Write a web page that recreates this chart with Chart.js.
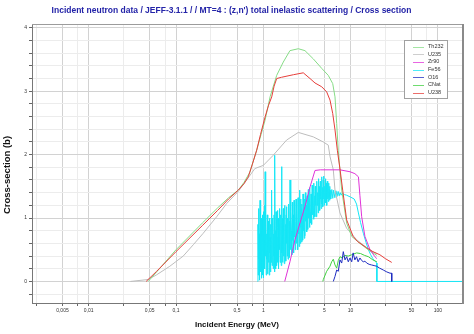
<!DOCTYPE html>
<html>
<head>
<meta charset="utf-8">
<script src="https://cdn.jsdelivr.net/npm/chart.js@4/dist/chart.umd.min.js"></script>
<style>
  html, body { margin: 0; padding: 0; background: #fff; }
  #wrap { width: 474px; height: 334px; }
</style>
</head>
<body>
<div id="wrap"><canvas id="c" width="474" height="334"></canvas></div>
<script>
// Incident energy (MeV) and cross-section (b) for each target, MT=4 (z,n')
const th232E = [0.048, 0.06, 0.1, 0.2, 0.3, 0.4, 0.517, 0.6, 0.7, 0.84, 1.046, 1.2, 1.424, 1.695, 2.02, 2.52, 3.0, 3.74, 4.67, 5.55, 6.24, 6.63, 6.93, 7.22, 7.91, 9.02, 10.3, 12.8, 15.9, 20];
const th232Xs = [0, 0.15, 0.5, 0.92, 1.16, 1.32, 1.44, 1.56, 1.72, 2.07, 2.54, 2.92, 3.25, 3.46, 3.64, 3.67, 3.64, 3.51, 3.36, 3.25, 3.12, 2.91, 2.49, 2.07, 1.44, 0.92, 0.71, 0.60, 0.50, 0.41];

const u235E = [0.03, 0.0478, 0.06, 0.085, 0.121, 0.158, 0.205, 0.292, 0.381, 0.517, 0.645, 0.8, 1.0, 1.3, 1.85, 2.52, 3.74, 4.86, 5.55, 5.81, 6.34, 6.63, 7.56, 9.0, 11.7, 15.3, 19, 20];
const u235Xs = [0, 0.03, 0.105, 0.24, 0.40, 0.58, 0.76, 1.02, 1.23, 1.42, 1.6, 1.78, 1.83, 1.99, 2.23, 2.35, 2.28, 2.20, 2.15, 1.97, 1.76, 1.44, 1.08, 0.84, 0.66, 0.53, 0.45, 0.44];

const zr90E = [1.76, 2.02, 2.31, 2.63, 3.0, 3.43, 3.91, 4.5, 5.81, 7.56, 9.85, 11.2, 12.3, 12.8, 13.4, 14.6, 16.7, 19, 20];
const zr90Xs = [0, 0.31, 0.66, 0.92, 1.18, 1.49, 1.75, 1.76, 1.76, 1.76, 1.73, 1.70, 1.65, 1.35, 1.02, 0.71, 0.50, 0.39, 0.36];

// Fe56: resolved-resonance structure above the 0.862 MeV threshold, [energy, xs]
const fe56Points = [
  [0.862, 0], [0.869, 0.9], [0.876, 0.1], [0.883, 1.15], [0.89, 0.35], [0.897, 0.75], [0.904, 0.02], [0.911, 0.6],
  [0.918, 1.28], [0.925, 0.15], [0.932, 0.85], [0.939, 0.4], [0.946, 1.0], [0.953, 0.05], [0.96, 0.7], [0.967, 0.25],
  [0.974, 1.05], [0.981, 0.1], [0.988, 0.8], [0.995, 0.3],
  [1.00, 1.1], [1.01, 0.06], [1.02, 0.65], [1.03, 1.2], [1.04, 0.2], [1.05, 1.73], [1.06, 0.4], [1.07, 0.9],
  [1.08, 0.1], [1.09, 0.75], [1.10, 0.35], [1.11, 1.05], [1.12, 0.12], [1.13, 0.6], [1.14, 0.95], [1.15, 0.3],
  [1.16, 0.8], [1.17, 0.1], [1.18, 1.0], [1.19, 0.45], [1.20, 0.7], [1.21, 0.15], [1.22, 0.9], [1.23, 0.3],
  [1.24, 1.1], [1.25, 1.44], [1.26, 0.25], [1.27, 0.85], [1.28, 0.5], [1.29, 1.0], [1.30, 0.2], [1.31, 0.75],
  [1.32, 0.4], [1.33, 1.05], [1.34, 0.15], [1.35, 0.9], [1.36, 1.99], [1.37, 0.35], [1.38, 0.8], [1.39, 0.2],
  [1.40, 1.1], [1.41, 0.55], [1.42, 0.95], [1.43, 0.25], [1.44, 0.7], [1.45, 1.12], [1.46, 0.3], [1.47, 0.85],
  [1.48, 0.45], [1.49, 1.0],
  [1.5, 0.2], [1.515, 0.9], [1.53, 0.5], [1.545, 1.15], [1.56, 0.3], [1.575, 0.75], [1.59, 1.05], [1.605, 0.25],
  [1.62, 1.81], [1.635, 0.45], [1.65, 1.0], [1.665, 0.3], [1.68, 0.8], [1.695, 1.15], [1.71, 0.4], [1.725, 0.95],
  [1.74, 0.28], [1.755, 0.7], [1.77, 1.2], [1.785, 0.5], [1.8, 0.9], [1.815, 0.32], [1.83, 1.05], [1.845, 0.6],
  [1.86, 1.18], [1.875, 0.4], [1.89, 0.85], [1.905, 1.0], [1.92, 0.35], [1.935, 1.1], [1.95, 0.6], [1.965, 1.22],
  [1.98, 0.45], [1.995, 0.95],
  [2.0, 0.38], [2.025, 1.6], [2.05, 0.5], [2.075, 1.1], [2.1, 0.8], [2.125, 0.42], [2.15, 1.25], [2.175, 0.65],
  [2.2, 1.05], [2.225, 0.45], [2.25, 1.28], [2.275, 0.7], [2.3, 1.1], [2.325, 0.5], [2.35, 0.95], [2.375, 1.3],
  [2.4, 0.6], [2.425, 1.15], [2.45, 0.8], [2.475, 0.5], [2.5, 1.32], [2.525, 0.75], [2.55, 1.2], [2.575, 0.55],
  [2.6, 1.0], [2.625, 1.44], [2.65, 0.6], [2.675, 1.3], [2.7, 0.85], [2.725, 1.15], [2.75, 0.62], [2.775, 1.22],
  [2.8, 0.95], [2.825, 0.65], [2.85, 1.38], [2.875, 0.8], [2.9, 1.25], [2.925, 0.9], [2.95, 0.68], [2.975, 1.3],
  [3.0, 0.72], [3.035, 1.4], [3.07, 0.95], [3.105, 1.2], [3.14, 0.78], [3.175, 1.35], [3.21, 1.05], [3.245, 0.82],
  [3.28, 1.45], [3.315, 1.0], [3.35, 1.3], [3.385, 0.85], [3.42, 1.48], [3.455, 1.1], [3.49, 0.92], [3.525, 1.38],
  [3.56, 1.15], [3.595, 0.9], [3.63, 1.52], [3.665, 1.05], [3.7, 1.42], [3.735, 1.2], [3.77, 0.98], [3.805, 1.55],
  [3.84, 1.12], [3.875, 1.35], [3.91, 1.02], [3.945, 1.5], [3.98, 1.2],
  [4.0, 1.45], [4.05, 1.02], [4.1, 1.58], [4.15, 1.2], [4.2, 1.4], [4.25, 1.08], [4.3, 1.62], [4.35, 1.25],
  [4.4, 1.5], [4.45, 1.12], [4.5, 1.58], [4.55, 1.3], [4.6, 1.15], [4.65, 1.65], [4.7, 1.22], [4.75, 1.48],
  [4.8, 1.18], [4.85, 1.6], [4.9, 1.3], [4.95, 1.66], [5.0, 1.2], [5.05, 1.5], [5.1, 1.28], [5.15, 1.62],
  [5.2, 1.24], [5.25, 1.55], [5.3, 1.35], [5.35, 1.2], [5.4, 1.58], [5.45, 1.3], [5.5, 1.5], [5.55, 1.26],
  [5.6, 1.55], [5.65, 1.32], [5.7, 1.46], [5.75, 1.28], [5.8, 1.5], [5.85, 1.32], [5.9, 1.44], [5.95, 1.3],
  [6.1, 1.45], [6.25, 1.31], [6.4, 1.44], [6.6, 1.32], [6.8, 1.43], [7.0, 1.34], [7.2, 1.42], [7.4, 1.35],
  [7.6, 1.4], [7.8, 1.36], [8.0, 1.39], [8.5, 1.37], [9.0, 1.36], [10, 1.33], [11, 1.3], [11.7, 1.22],
  [12.3, 1.08], [13, 0.93], [14, 0.76], [15, 0.62], [16, 0.5], [17, 0.42], [18, 0.36], [19, 0.32],
  [20, 0.29], [20, 0], [200, 0]
];

const o16E = [6.34, 6.63, 6.93, 7.23, 7.56, 7.91, 8.25, 8.63, 9.02, 9.41, 9.84, 10.3, 10.7, 11.2, 11.7, 12.2, 12.8, 13.4, 14.0, 14.6, 15.3, 16.3, 17.4, 18.6, 19.9, 21.5, 23.7, 26, 28.3, 29.6, 29.6];
const o16Xs = [0, 0.08, 0.18, 0.16, 0.34, 0.29, 0.47, 0.34, 0.39, 0.31, 0.37, 0.31, 0.45, 0.34, 0.39, 0.31, 0.37, 0.33, 0.31, 0.32, 0.29, 0.27, 0.26, 0.25, 0.24, 0.21, 0.18, 0.15, 0.13, 0.13, 0];

const cnatE = [4.81, 4.87, 5.32, 5.81, 6.07, 6.34, 6.63, 6.93, 7.23, 7.56, 8.0, 8.6, 9.4, 10.3, 11.7, 13.0, 14.5, 16, 18, 20];
const cnatXs = [0, 0.03, 0.16, 0.24, 0.31, 0.35, 0.26, 0.21, 0.33, 0.39, 0.37, 0.41, 0.40, 0.42, 0.45, 0.44, 0.41, 0.39, 0.34, 0.31];

const u238E = [0.0455, 0.06, 0.1, 0.2, 0.3, 0.4, 0.517, 0.6, 0.673, 0.75, 0.84, 0.93, 1.046, 1.15, 1.248, 1.33, 1.424, 1.62, 2.21, 2.87, 3.43, 3.91, 4.67, 5.32, 5.81, 6.24, 6.63, 7.05, 7.6, 8.12, 9.02, 10.7, 12, 15.3, 18, 21.7, 25, 29.6];
const u238Xs = [0, 0.16, 0.47, 0.88, 1.12, 1.30, 1.44, 1.54, 1.65, 1.85, 2.07, 2.32, 2.59, 2.78, 2.91, 3.08, 3.20, 3.22, 3.26, 3.29, 3.20, 3.13, 3.07, 2.99, 2.86, 2.65, 2.39, 2.07, 1.75, 1.44, 0.97, 0.71, 0.63, 0.53, 0.47, 0.42, 0.36, 0.30];

// Axis ticks: every tick gets a grid line, only the labelled ones are darker
const xTickValues = [0.0025, 0.005, 0.0075, 0.01, 0.025, 0.05, 0.075, 0.1, 0.25, 0.5, 0.75, 1, 2.5, 5, 7.5, 10, 25, 50, 75, 100];
const xTickLabels = ['', '0,005', '', '0,01', '', '0,05', '', '0,1', '', '0,5', '', '1', '', '5', '', '10', '', '50', '', '100'];
const yTickValues = [-0.2, 0, 0.2, 0.4, 0.6, 0.8, 1, 1.2, 1.4, 1.6, 1.8, 2, 2.2, 2.4, 2.6, 2.8, 3, 3.2, 3.4, 3.6, 3.8, 4];
const yTickLabels = ['', '0', '', '', '', '', '1', '', '', '', '', '2', '', '', '', '', '3', '', '', '', '', '4'];

const FONT = '"Liberation Sans", Arial, sans-serif';

function pairs(energies, values) {
  return energies.map((e, i) => ({ x: e, y: values[i] }));
}

function series(label, data, color, order) {
  return {
    label,
    data,
    borderColor: color,
    backgroundColor: color,
    borderWidth: 1,
    pointRadius: 0,
    tension: 0,
    fill: false,
    order
  };
}

const datasets = [
  series('Th232', pairs(th232E, th232Xs), '#86dc86', 4),
  series('U235', pairs(u235E, u235Xs), '#bdbdbd', 5),
  series('Zr90', pairs(zr90E, zr90Xs), '#e032d8', 3),
  series('Fe56', fe56Points.map(([e, v]) => ({ x: e, y: v })), '#14e6f6', 6),
  series('O16', pairs(o16E, o16Xs), '#1e2cc0', 1),
  series('CNat', pairs(cnatE, cnatXs), '#3fd03f', 2),
  series('U238', pairs(u238E, u238Xs), '#e63e3a', 0)
];

// Frame, axis titles and the boxed legend inside the plot
const decorations = {
  id: 'decorations',
  afterDraw(chart) {
    const { ctx, chartArea: a } = chart;
    ctx.save();

    ctx.strokeStyle = '#9c9c9c';
    ctx.lineWidth = 1;
    ctx.beginPath();
    ctx.moveTo(a.left, a.top + 0.5);
    ctx.lineTo(a.right, a.top + 0.5);
    ctx.stroke();

    ctx.strokeStyle = '#8a8a8a';
    ctx.lineWidth = 2;
    ctx.beginPath();
    ctx.moveTo(a.right, a.top);
    ctx.lineTo(a.right, a.bottom + 1);
    ctx.stroke();

    // axis titles
    ctx.fillStyle = '#111';
    ctx.textAlign = 'center';
    ctx.textBaseline = 'middle';
    ctx.font = 'bold 8px ' + FONT;
    ctx.fillText('Incident Energy (MeV)', chart.width / 2, chart.height - 9);

    ctx.save();
    ctx.translate(7, 175);
    ctx.rotate(-Math.PI / 2);
    ctx.font = 'bold 9.5px ' + FONT;
    ctx.fillText('Cross-section (b)', 0, 0);
    ctx.restore();

    // legend
    const bx = a.right - 59, by = a.top + 16, bw = 43, bh = 58;
    ctx.fillStyle = '#fff';
    ctx.fillRect(bx, by, bw, bh);
    ctx.strokeStyle = '#a0a0a0';
    ctx.lineWidth = 1;
    ctx.strokeRect(bx + 0.5, by + 0.5, bw, bh);
    ctx.font = '5.5px ' + FONT;
    ctx.textAlign = 'left';
    ctx.textBaseline = 'middle';
    chart.data.datasets.forEach((ds, i) => {
      const y = by + 6.5 + i * 7.67;
      ctx.strokeStyle = ds.borderColor;
      ctx.globalAlpha = 0.75;
      ctx.lineWidth = 1;
      ctx.beginPath();
      ctx.moveTo(bx + 9, Math.round(y) + 0.5);
      ctx.lineTo(bx + 20, Math.round(y) + 0.5);
      ctx.stroke();
      ctx.globalAlpha = 1;
      ctx.fillStyle = '#333';
      ctx.fillText(ds.label, bx + 24, y);
    });

    ctx.restore();
  }
};

new Chart(document.getElementById('c'), {
  type: 'line',
  data: { datasets },
  options: {
    responsive: false,
    animation: false,
    devicePixelRatio: 1,
    layout: { padding: { left: 0, right: 11, top: 0, bottom: 0 } },
    plugins: {
      legend: { display: false },
      tooltip: { enabled: false },
      title: {
        display: true,
        text: "Incident neutron data / JEFF-3.1.1 / / MT=4 : (z,n') total inelastic scattering / Cross section",
        color: '#2424a8',
        font: { family: FONT, size: 8.5, weight: 'bold' },
        padding: { top: 6, bottom: 7.8 }
      }
    },
    scales: {
      x: {
        type: 'logarithmic',
        min: 0.00224,
        max: 194,
        afterBuildTicks: (scale) => { scale.ticks = xTickValues.map(v => ({ value: v })); },
        afterFit: (scale) => { scale.height = 31; },
        ticks: {
          autoSkip: false,
          maxRotation: 0,
          padding: 2,
          color: '#333',
          font: { family: FONT, size: 5 },
          callback: (value, index) => xTickLabels[index]
        },
        grid: {
          color: (ctx) => (xTickLabels[ctx.index] ? '#d2d2d2' : '#ececec'),
          tickColor: '#666',
          tickLength: 3
        },
        border: { color: '#777', width: 1 }
      },
      y: {
        type: 'linear',
        min: -0.34,
        max: 4.06,
        afterBuildTicks: (scale) => { scale.ticks = yTickValues.map(v => ({ value: v })); },
        afterFit: (scale) => { scale.width = 32; },
        ticks: {
          autoSkip: false,
          padding: 2,
          color: '#333',
          font: { family: FONT, size: 5 },
          callback: (value, index) => yTickLabels[index]
        },
        grid: {
          color: (ctx) => (yTickLabels[ctx.index] ? '#d2d2d2' : '#ececec'),
          tickColor: '#666',
          tickLength: 3
        },
        border: { color: '#777', width: 1 }
      }
    }
  },
  plugins: [decorations]
});
</script>
</body>
</html>
